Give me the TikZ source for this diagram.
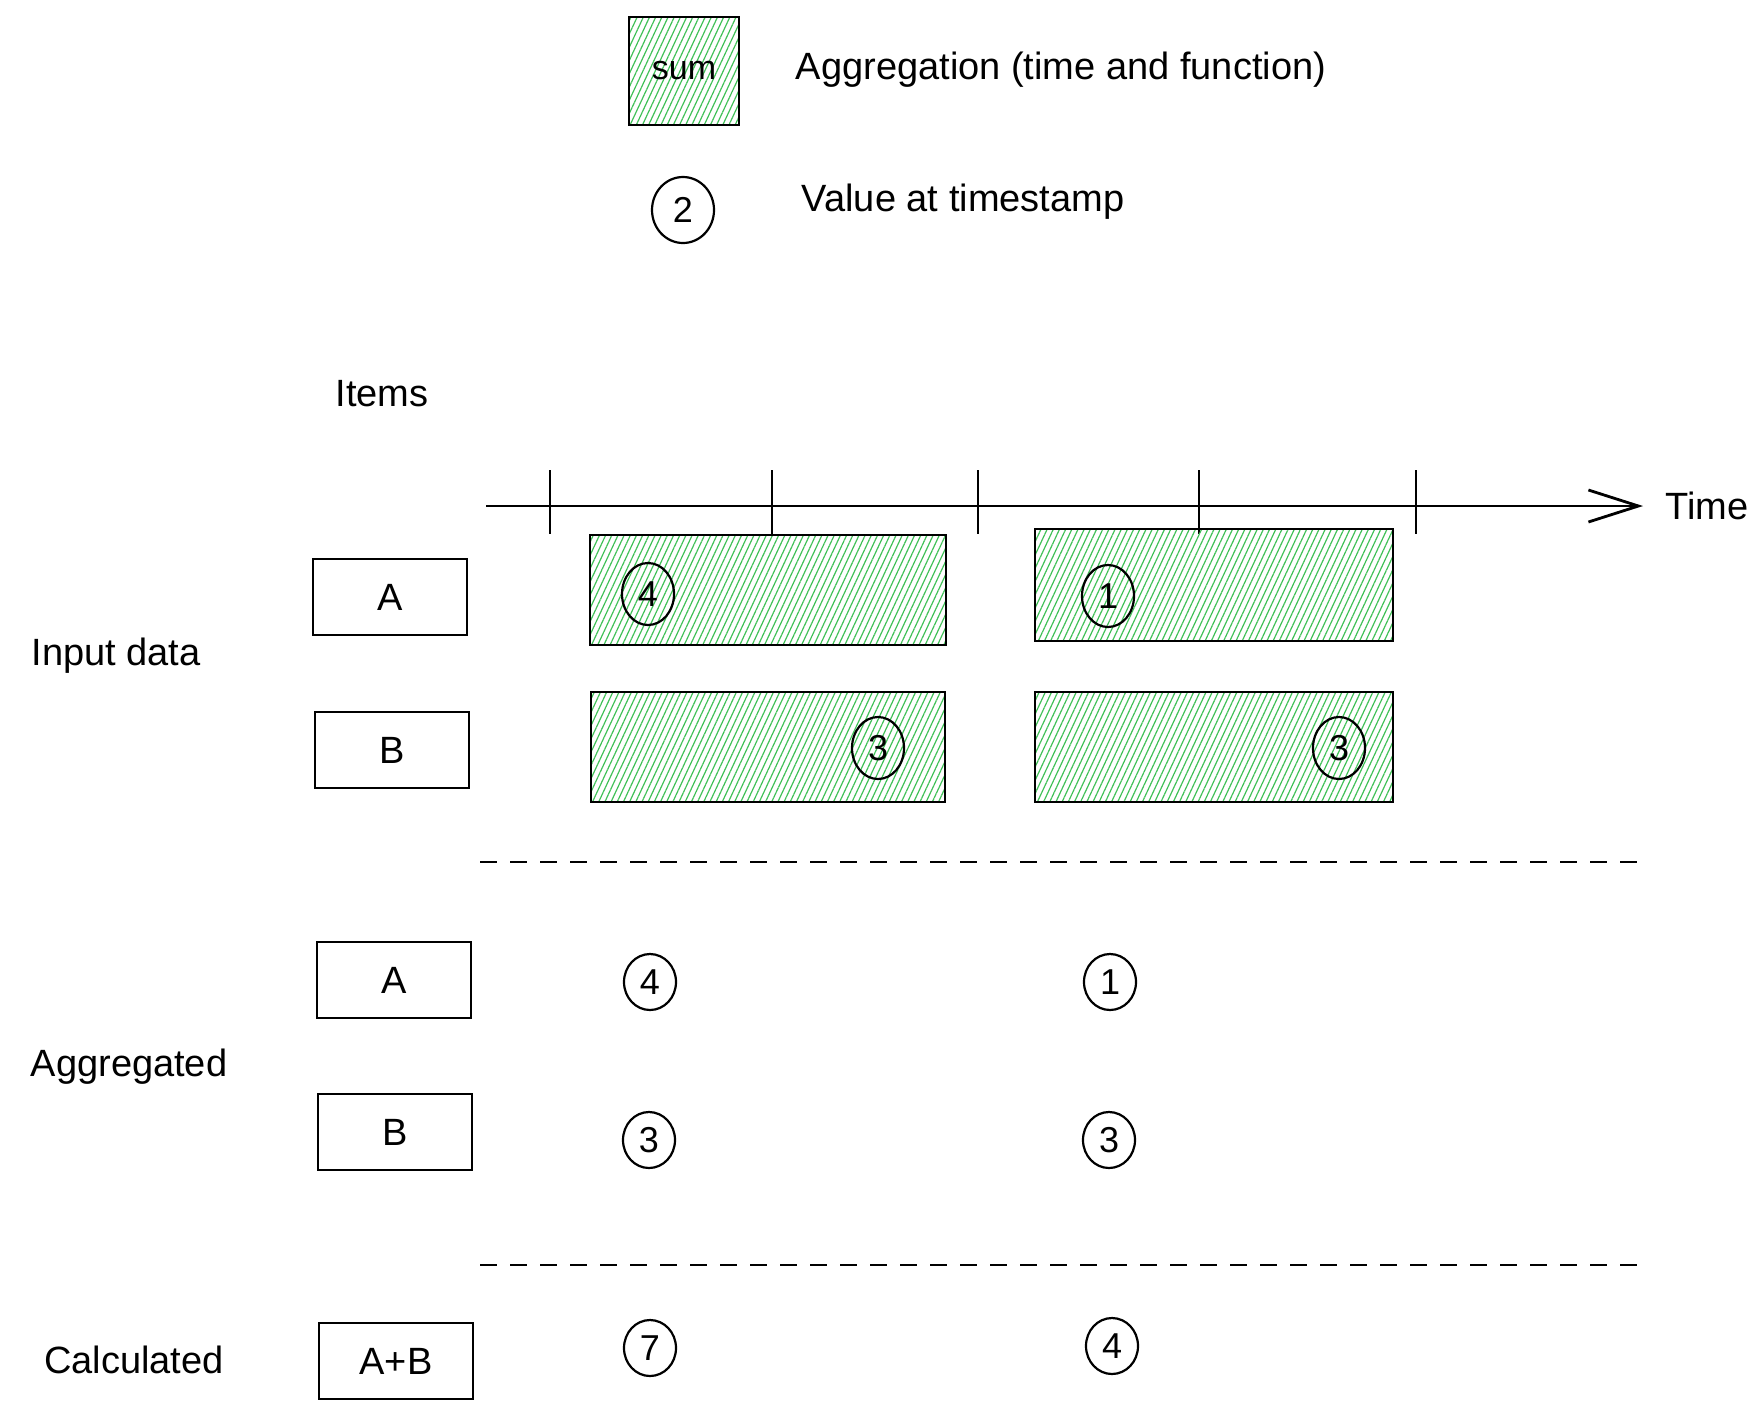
\documentclass[tikz,border=0pt]{standalone}
\usepackage{fontspec}
\setmainfont{Liberation Sans}
\usepackage{tikz}
\usetikzlibrary{arrows.meta,shapes.geometric,patterns.meta}
\definecolor{hatch}{RGB}{64,192,87}
\tikzstyle{item}=[draw,line width=1.2pt,minimum width=77pt,minimum height=38pt,inner sep=0pt]
\tikzstyle{agg}=[draw,line width=1.2pt,pattern={Lines[angle=65,distance=2.8pt,line width=0.6pt]},pattern color=hatch,inner sep=0pt]
\tikzstyle{value}=[draw,ellipse,line width=1.1pt,minimum width=26pt,minimum height=31pt,inner sep=0pt,font=\fontsize{18}{20}\selectfont]
\tikzstyle{sep}=[line width=1pt,dash pattern=on 8.5pt off 6.5pt]

\begin{document}
\begin{tikzpicture}[x=0.5pt,y=-0.5pt,line width=1.2pt,font=\fontsize{19}{22}\selectfont]
\useasboundingbox (0,0) rectangle (1756,1410);
% legend
\node [agg,minimum width=55pt,minimum height=54pt,font=\fontsize{17}{20}\selectfont] (key) at (684,71) {sum};
\node [anchor=west] (keytext) at (788,70) {Aggregation (time and function)};
\node [value,minimum width=31pt,minimum height=33pt] (keyval) at (683,210) {2};
\node [anchor=west] (valtext) at (794,202) {Value at timestamp};
% time axis
\node (items) at (382,394) {Items};
\coordinate (t0) at (486,506);
\coordinate (t1) at (1643,506);
\node [anchor=west,inner sep=0pt] (time) at (1664,506) {Time};
\draw [line width=1.4pt,-{Straight Barb[length=25pt,width=16pt]}] (t0) -- (t1);
\foreach \x in {550,772,978,1199,1416}
  \draw [line width=1.3pt] (\x,470) -- (\x,534);
% input data
\node (input) at (116,656) {Input data};
\node [item] (ia) at (390,597) {A};
\node [item] (ib) at (392,750) {B};
\node [agg,minimum width=178pt,minimum height=55pt] (ga1) at (768,590) {};
\node [agg,minimum width=179pt,minimum height=56pt] (ga2) at (1214,585) {};
\node [agg,minimum width=177pt,minimum height=55pt] (gb1) at (768,747) {};
\node [agg,minimum width=179pt,minimum height=55pt] (gb2) at (1214,747) {};
\node [value] (va1) at (648,594) {4};
\node [value] (va2) at (1108,596) {1};
\node [value] (vb1) at (878,748) {3};
\node [value] (vb2) at (1339,748) {3};
\draw [sep] (480,862) -- (1643,862);
% aggregated
\node (aggr) at (129,1067) {Aggregated};
\node [item] (aa) at (394,980) {A};
\node [item] (ab) at (395,1132) {B};
\node [value,minimum height=28pt] (xa1) at (650,982) {4};
\node [value,minimum height=28pt] (xa2) at (1110,982) {1};
\node [value,minimum height=28pt] (xb1) at (649,1140) {3};
\node [value,minimum height=28pt] (xb2) at (1109,1140) {3};
\draw [sep] (480,1265) -- (1643,1265);
% calculated
\node (calc) at (134,1360) {Calculated};
\node [item] (cab) at (396,1361) {A+B};
\node [value,minimum height=28pt] (c1) at (650,1348) {7};
\node [value,minimum height=28pt] (c2) at (1112,1346) {4};
\end{tikzpicture}
\end{document}
